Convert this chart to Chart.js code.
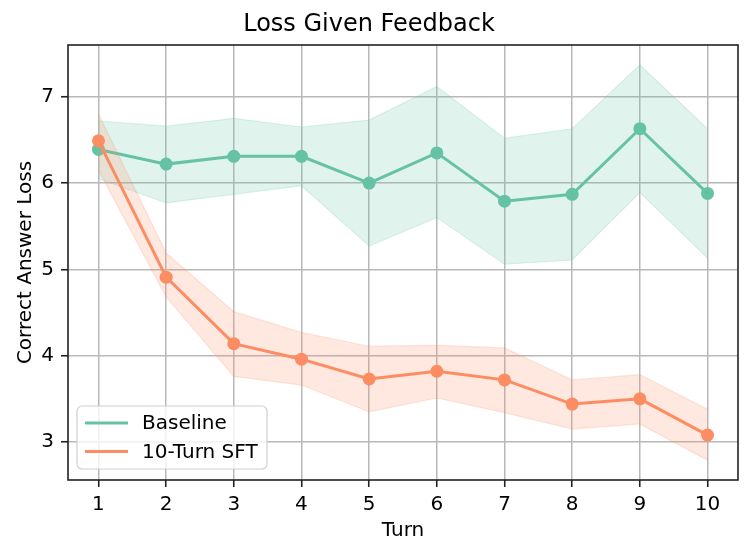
<!DOCTYPE html>
<html>
<head>
<meta charset="utf-8">
<script src="https://cdn.jsdelivr.net/npm/chart.js@4.4.1/dist/chart.umd.min.js"></script>
<style>
  html, body { margin: 0; padding: 0; background: #fff; }
  #wrap { width: 752px; height: 554px; }
</style>
</head>
<body>
<div id="wrap"><canvas id="lossChart" width="752" height="554"></canvas></div>
<script>
const turns = [1, 2, 3, 4, 5, 6, 7, 8, 9, 10];
const yTicks = [3, 4, 5, 6, 7];

const baselineMean  = [6.39, 6.22, 6.31, 6.31, 6.00, 6.35, 5.79, 5.87, 6.63, 5.88];
const baselineUpper = [6.72, 6.66, 6.75, 6.65, 6.73, 7.12, 6.52, 6.63, 7.37, 6.63];
const baselineLower = [6.05, 5.77, 5.87, 5.97, 5.27, 5.60, 5.06, 5.11, 5.89, 5.13];

const sftMean  = [6.49, 4.91, 4.14, 3.96, 3.73, 3.82, 3.72, 3.44, 3.50, 3.08];
const sftUpper = [6.80, 5.19, 4.51, 4.27, 4.11, 4.12, 4.09, 3.72, 3.78, 3.38];
const sftLower = [6.15, 4.68, 3.76, 3.66, 3.35, 3.51, 3.34, 3.15, 3.21, 2.79];

const TEAL = "#66c2a5";
const ORANGE = "#fc8d62";
const FONT = "'DejaVu Sans', sans-serif";

const pts = (ys) => ys.map((y, i) => ({ x: turns[i], y }));

function band(ys, color, fill, order) {
    return {
        data: pts(ys),
        borderColor: color,
        borderWidth: 1.2,
        backgroundColor: color,
        pointRadius: 0,
        fill,
        order,
        isBand: true
    };
}

function meanLine(label, ys, color, order) {
    return {
        label,
        data: pts(ys),
        borderColor: color,
        borderWidth: 3,
        backgroundColor: color,
        pointBackgroundColor: color,
        pointBorderWidth: 0,
        pointRadius: 6.5,
        fill: false,
        order
    };
}

// frame on all four sides, like matplotlib spines
const framePlugin = {
    id: "frame",
    afterDatasetsDraw(chart) {
        const { ctx, chartArea: a } = chart;
        ctx.save();
        ctx.strokeStyle = "#222";
        ctx.lineWidth = 1.6;
        ctx.strokeRect(a.left, a.top, a.right - a.left, a.bottom - a.top);
        ctx.restore();
    }
};

// legend box inside the lower left corner of the plot
const innerLegend = {
    id: "innerLegend",
    afterDraw(chart) {
        const { ctx, chartArea: a } = chart;
        const items = chart.data.datasets.filter(d => !d.isBand);
        const x = a.left + 9, w = 190, rowH = 28.5;
        const h = 63;
        const y = a.bottom - 11 - h;
        ctx.save();
        ctx.fillStyle = "rgba(255,255,255,0.8)";
        ctx.strokeStyle = "#d0d0d0";
        ctx.lineWidth = 1.2;
        ctx.beginPath();
        ctx.roundRect(x, y, w, h, 5);
        ctx.fill();
        ctx.stroke();
        ctx.font = "20px " + FONT;
        ctx.textBaseline = "middle";
        items.forEach((d, i) => {
            const cy = y + 17 + i * rowH;
            ctx.strokeStyle = d.borderColor;
            ctx.lineWidth = 3;
            ctx.beginPath();
            ctx.moveTo(x + 8, cy);
            ctx.lineTo(x + 51, cy);
            ctx.stroke();
            ctx.fillStyle = "#000";
            ctx.fillText(d.label, x + 65, cy + 1);
        });
        ctx.restore();
    }
};

new Chart(document.getElementById("lossChart"), {
    type: "line",
    data: {
        datasets: [
            band(baselineUpper, "rgba(102,194,165,0.2)", "+1", 4),
            band(baselineLower, "rgba(102,194,165,0.2)", false, 4),
            meanLine("Baseline", baselineMean, TEAL, 3),
            band(sftUpper, "rgba(252,141,98,0.2)", "+1", 2),
            band(sftLower, "rgba(252,141,98,0.2)", false, 2),
            meanLine("10-Turn SFT", sftMean, ORANGE, 1)
        ]
    },
    options: {
        responsive: false,
        animation: false,
        layout: { padding: { left: 0, right: 14, top: 0, bottom: 0 } },
        plugins: {
            legend: { display: false },
            tooltip: { enabled: false },
            title: {
                display: true,
                text: "Loss Given Feedback",
                color: "#000",
                font: { family: FONT, size: 24, weight: "normal", lineHeight: 1.2 },
                padding: { top: 10, bottom: 6.2 }
            }
        },
        scales: {
            x: {
                type: "linear",
                min: 0.55,
                max: 10.45,
                afterBuildTicks: (s) => { s.ticks = turns.map(v => ({ value: v })); },
                afterFit: (s) => { s.height = 74; },
                grid: { color: "#b8b8b8", lineWidth: 1.5, tickColor: "#222", tickLength: 7, tickWidth: 1.6 },
                border: { display: false },
                ticks: { color: "#000", padding: 6, font: { family: FONT, size: 20 } },
                title: {
                    display: true, text: "Turn", color: "#000",
                    font: { family: FONT, size: 20, lineHeight: 1.2 }, padding: { top: 0, bottom: 11 }
                }
            },
            y: {
                min: 2.56,
                max: 7.60,
                afterBuildTicks: (s) => { s.ticks = yTicks.map(v => ({ value: v })); },
                afterFit: (s) => { s.width = 68; },
                grid: { color: "#b8b8b8", lineWidth: 1.5, tickColor: "#222", tickLength: 7, tickWidth: 1.6 },
                border: { display: false },
                ticks: { color: "#000", padding: 7, font: { family: FONT, size: 20 } },
                title: {
                    display: true, text: "Correct Answer Loss", color: "#000",
                    font: { family: FONT, size: 20, lineHeight: 1.2 }, padding: { top: 14, bottom: 0 }
                }
            }
        }
    },
    plugins: [framePlugin, innerLegend]
});
</script>
</body>
</html>
